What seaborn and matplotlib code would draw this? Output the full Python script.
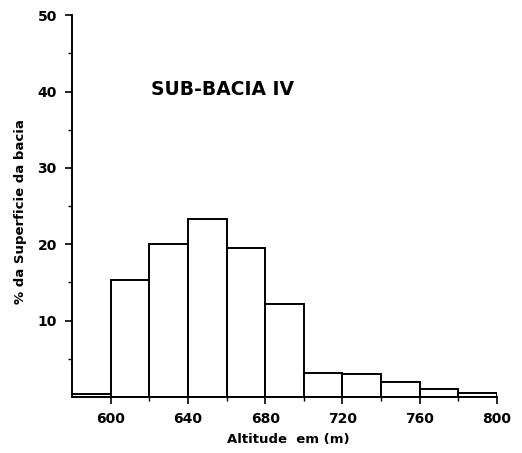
import matplotlib
matplotlib.use("Agg")
import matplotlib.pyplot as plt
import seaborn as sns
import numpy as np
from matplotlib.ticker import FixedLocator

sns.set_theme(style="white")
plt.rcParams['font.family'] = ['DejaVu Sans']
plt.rcParams['text.color'] = 'black'
plt.rcParams['axes.labelcolor'] = 'black'
plt.rcParams['xtick.color'] = 'black'
plt.rcParams['ytick.color'] = 'black'

bin_edges = [580, 600, 620, 640, 660, 680, 700, 720, 740, 760, 780, 800]
percent = [0.4, 15.3, 20.0, 23.3, 19.5, 12.2, 3.2, 3.0, 1.9, 1.0, 0.5]
xtick_labels = [600, 640, 680, 720, 760, 800]
ytick_labels = [10, 20, 30, 40, 50]

centers = [(a + b) / 2 for a, b in zip(bin_edges[:-1], bin_edges[1:])]

fig = plt.figure(figsize=(5.22, 4.53), dpi=100)
ax = fig.add_axes([0.138, 0.1236, 0.814, 0.843])

sns.histplot(x=centers, weights=percent, bins=bin_edges, ax=ax,
             color="white", edgecolor="black", linewidth=1.4, alpha=1)

ax.set_xlim(580, 800)
ax.set_ylim(0, 50)
for s in ["top", "right"]:
    ax.spines[s].set_visible(False)
for s in ["left", "bottom"]:
    ax.spines[s].set_color("black")
    ax.spines[s].set_linewidth(1.4)

ax.xaxis.set_major_locator(FixedLocator(xtick_labels))
ax.xaxis.set_minor_locator(FixedLocator([620, 660, 700, 740, 780]))
ax.yaxis.set_major_locator(FixedLocator(ytick_labels))
ax.yaxis.set_minor_locator(FixedLocator([5, 15, 25, 35, 45]))
ax.tick_params(axis="both", which="major", direction="out", length=5, width=1.2,
               color="black", labelsize=10, bottom=True, left=True, pad=6,
               labelcolor="black")
ax.tick_params(axis="both", which="minor", direction="out", length=3, width=1.0,
               color="black", bottom=True, left=True)
for lbl in ax.get_xticklabels() + ax.get_yticklabels():
    lbl.set_fontweight("bold")

ax.set_xlabel("Altitude  em (m)", fontsize=9.5, fontweight="bold", color="black")
ax.set_ylabel("% da Superficie da bacia", fontsize=9.5, fontweight="bold", color="black")
ax.xaxis.set_label_coords(0.51, -0.095)
ax.yaxis.set_label_coords(-0.105, 0.485)
ax.text(658, 40.3, "SUB-BACIA IV", fontsize=13.5, fontweight="bold",
        ha="center", va="center", color="black")

fig.savefig("out.png", dpi=100)
